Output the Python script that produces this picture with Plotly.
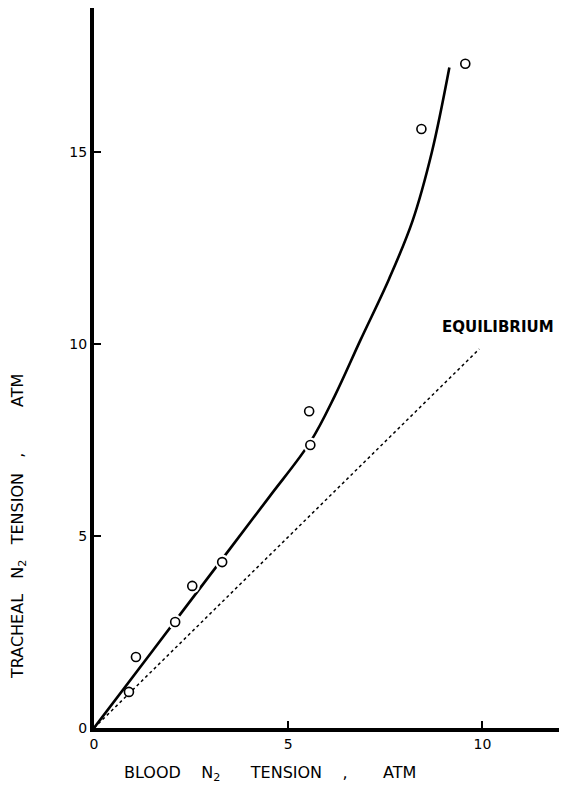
import plotly.graph_objects as go

# Observed data points (blood N2 tension, tracheal N2 tension), atm
blood_pts = [0.90, 1.08, 2.09, 2.53, 3.30, 5.54, 5.57, 8.43, 9.56]
tracheal_pts = [0.94, 1.85, 2.76, 3.70, 4.32, 8.25, 7.37, 15.6, 17.3]

# Hand-drawn fitted curve
curve_x = [0.0, 1.5, 3.0, 4.5, 5.57, 6.2, 6.86, 7.6, 8.2, 8.7, 9.15]
curve_y = [0.0, 2.0, 4.0, 6.0, 7.45, 8.65, 10.1, 11.7, 13.2, 15.0, 17.2]

# Equilibrium line
eq_x = [0.0, 9.92]
eq_y = [0.0, 9.87]

tick_vals = [0, 5, 10, 15]
tick_text = ["0", "5", "10", "15"]

FONT = "DejaVu Sans"
NB = "&nbsp;"

fig = go.Figure()

fig.add_trace(go.Scatter(x=eq_x, y=eq_y, mode="lines",
                         line=dict(color="black", width=1.5, dash="dot"),
                         showlegend=False, hoverinfo="skip"))
fig.add_trace(go.Scatter(x=curve_x, y=curve_y, mode="lines",
                         line=dict(color="black", width=2.6, shape="spline", smoothing=1.0),
                         showlegend=False, hoverinfo="skip"))
# white halo to create gaps in the curve around points
fig.add_trace(go.Scatter(x=blood_pts[1:], y=tracheal_pts[1:], mode="markers",
                         marker=dict(symbol="circle", size=15, color="white",
                                     line=dict(width=0)),
                         showlegend=False, hoverinfo="skip"))
fig.add_trace(go.Scatter(x=blood_pts, y=tracheal_pts, mode="markers",
                         marker=dict(symbol="circle", size=9, color="white",
                                     line=dict(color="black", width=1.6)),
                         showlegend=False))

fig.add_annotation(x=10.4, y=10.45, xref="x", yref="y", text="<b>EQUILIBRIUM</b>",
                   showarrow=False, font=dict(family=FONT, size=15, color="black"))

# plot area: 468 px wide, 720 px tall (in page pixels)
fig.add_annotation(x=(270 - 94) / 468, y=-(773 - 728) / 720, xref="paper", yref="paper",
                   text="BLOOD" + NB * 4 + "N<sub>2</sub>" + NB * 6 + "TENSION" + NB * 4 + ","
                        + NB * 7 + "ATM",
                   showarrow=False, font=dict(family=FONT, size=16, color="black"),
                   xanchor="center", yanchor="middle")
fig.add_annotation(x=-(94 - 18) / 468, y=(728 - 527) / 720, xref="paper", yref="paper",
                   text="TRACHEAL" + NB * 3 + "N<sub>2</sub>" + NB * 3 + "TENSION" + NB * 3 + ","
                        + NB * 9 + "ATM",
                   textangle=-90, showarrow=False,
                   font=dict(family=FONT, size=16, color="black"),
                   xanchor="center", yanchor="middle")

axis_common = dict(showgrid=False, zeroline=False, showline=True, linecolor="black",
                   linewidth=4, ticks="inside", ticklen=7, tickwidth=1.5, tickcolor="black",
                   tickvals=tick_vals, ticktext=tick_text,
                   tickfont=dict(family=FONT, size=14, color="black"))

# page body has an 8px margin, so the figure is shifted by (8, 8)
fig.update_layout(
    width=559, height=779,
    margin=dict(l=86, r=5, t=0, b=59),
    paper_bgcolor="white", plot_bgcolor="white",
    xaxis=dict(range=[0, 12.05], **axis_common),
    yaxis=dict(range=[0, 18.75], **axis_common),
    showlegend=False,
)

fig.write_html("out.html")
